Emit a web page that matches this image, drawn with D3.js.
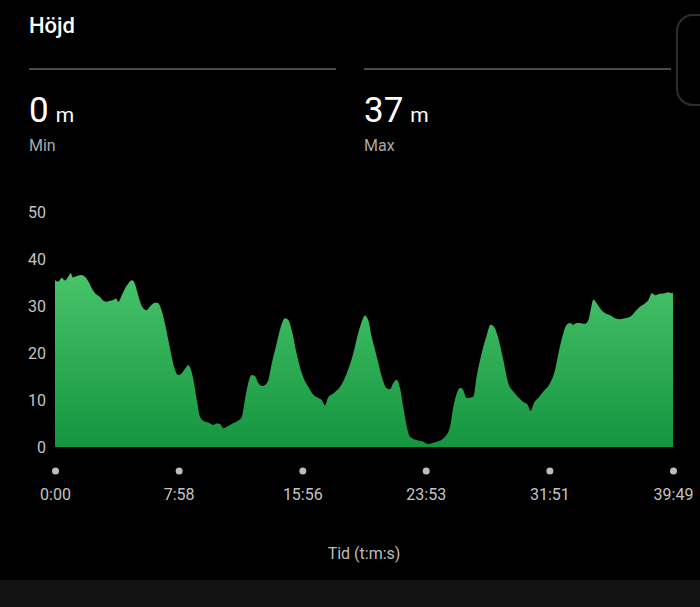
<!DOCTYPE html>
<html>
<head>
<meta charset="utf-8">
<script src="https://d3js.org/d3.v7.min.js"></script>
<style>
  html, body { margin: 0; padding: 0; background: #000; }
  svg { display: block; font-family: Roboto, "Noto Sans", sans-serif; }
</style>
</head>
<body>
<div id="chart"></div>
<script>
// elevation profile (seconds, metres)
const times = [0, 13, 26, 39, 51, 61, 68, 84, 103, 116, 129, 142, 155, 174, 187, 200, 213, 225, 236, 245,
  258, 271, 283, 297, 305, 316, 329, 341, 354, 367, 387, 399, 412, 425, 438, 451, 464, 477, 490, 503,
  515, 526, 535, 548, 561, 573, 593, 612, 625, 638, 651, 664, 683, 702, 722, 734, 747, 760, 773, 786,
  800, 812, 825, 838, 857, 873, 889, 902, 915, 934, 954, 979, 999, 1018, 1031, 1044, 1056, 1076, 1102, 1128,
  1153, 1172, 1186, 1198, 1211, 1224, 1244, 1263, 1282, 1295, 1308, 1321, 1334, 1346, 1360, 1372, 1398, 1424, 1443, 1456,
  1476, 1508, 1527, 1540, 1553, 1566, 1578, 1592, 1604, 1617, 1630, 1649, 1669, 1684, 1697, 1714, 1733, 1752, 1772, 1791,
  1810, 1826, 1839, 1852, 1868, 1888, 1914, 1933, 1946, 1965, 1978, 1991, 2004, 2010, 2030, 2049, 2062, 2072, 2081, 2094,
  2113, 2133, 2145, 2165, 2184, 2203, 2223, 2242, 2262, 2281, 2294, 2307, 2320, 2339, 2358, 2371, 2384, 2389];
const heights = [35.5, 35.2, 36.0, 35.4, 36.2, 37.0, 36.1, 36.4, 36.6, 36.2, 35.2, 33.8, 32.7, 31.9, 31.1, 30.9, 31.1, 31.3, 31.6, 30.9,
  32.3, 33.8, 34.8, 35.5, 35.2, 33.4, 30.9, 29.5, 29.1, 29.9, 30.7, 30.6, 29.1, 26.3, 22.8, 19.2, 16.4, 15.3, 15.7, 16.7,
  17.4, 16.4, 14.3, 10.0, 6.4, 5.6, 5.2, 4.7, 5.0, 4.9, 4.0, 4.3, 4.9, 5.4, 6.4, 10.0, 13.6, 15.3, 15.1, 13.6,
  13.0, 13.2, 14.3, 17.8, 22.1, 25.6, 27.4, 27.0, 24.9, 19.9, 15.7, 12.8, 11.1, 10.4, 10.0, 8.9, 10.6, 11.4, 12.8, 15.7,
  19.9, 24.2, 26.7, 28.0, 27.0, 23.5, 19.2, 15.0, 12.5, 12.3, 13.6, 14.3, 12.5, 8.6, 4.3, 2.2, 1.5, 1.1, 0.6, 0.8,
  1.1, 2.2, 4.3, 8.6, 11.4, 12.6, 12.1, 10.4, 10.5, 10.7, 15.0, 19.9, 23.8, 26.0, 25.6, 23.1, 18.5, 13.6, 11.8, 10.6,
  9.6, 9.1, 7.7, 9.4, 10.4, 11.8, 13.6, 16.4, 19.9, 24.2, 26.0, 26.4, 26.0, 26.3, 26.4, 26.2, 27.0, 29.5, 31.4, 30.6,
  29.1, 28.3, 28.1, 27.4, 27.2, 27.4, 27.7, 28.8, 29.9, 30.6, 31.3, 32.7, 32.3, 32.6, 32.7, 32.9, 32.7, 32.8];

const yTicks = [0, 10, 20, 30, 40, 50];
const xTickSeconds = [0, 478, 956, 1433, 1911, 2389];
const xTickLabels = ["0:00", "7:58", "15:56", "23:53", "31:51", "39:49"];

const title = "Höjd";
const stats = [{ value: "0", unit: "m", label: "Min" }, { value: "37", unit: "m", label: "Max" }];
const axisTitle = "Tid (t:m:s)";

const width = 700, height = 607;

const svg = d3.select("#chart").append("svg")
  .attr("width", width)
  .attr("height", height);

svg.append("rect").attr("width", width).attr("height", height).attr("fill", "#000");

// bottom strip
svg.append("rect").attr("x", 0).attr("y", 580).attr("width", width).attr("height", 27).attr("fill", "#121212");

// partial card at right edge
svg.append("rect")
  .attr("x", 677).attr("y", 15).attr("width", 60).attr("height", 90).attr("rx", 16)
  .attr("fill", "none").attr("stroke", "#2e2e2e").attr("stroke-width", 2);

// header
svg.append("text").attr("x", 29).attr("y", 33)
  .attr("fill", "#fff").attr("font-size", 22).attr("font-weight", 500)
  .text(title);

const statX = [29, 364];
stats.forEach((s, i) => {
  const x0 = statX[i];
  svg.append("line")
    .attr("x1", x0).attr("x2", x0 + 307).attr("y1", 69).attr("y2", 69)
    .attr("stroke", "#4a4a4a").attr("stroke-width", 2);
  const t = svg.append("text").attr("x", x0).attr("y", 122).attr("fill", "#fff");
  t.append("tspan").attr("font-size", 35).text(s.value);
  t.append("tspan").attr("font-size", 21).attr("dx", 7).text(s.unit);
  svg.append("text").attr("x", x0).attr("y", 151)
    .attr("fill", "#a8a8a8").attr("font-size", 16).text(s.label);
});

// scales
const x = d3.scaleLinear().domain([0, 2389]).range([55, 673]);
const y = d3.scaleLinear().domain([0, 50]).range([447, 212]);

const data = times.map((t, i) => ({ t: t, h: heights[i] }));

const defs = svg.append("defs");
const grad = defs.append("linearGradient")
  .attr("id", "fillGrad")
  .attr("gradientUnits", "userSpaceOnUse")
  .attr("x1", 0).attr("x2", 0)
  .attr("y1", y(37)).attr("y2", y(0));
grad.append("stop").attr("offset", "0%").attr("stop-color", "#48c46a");
grad.append("stop").attr("offset", "100%").attr("stop-color", "#14953f");

const area = d3.area()
  .x(d => x(d.t))
  .y0(y(0))
  .y1(d => y(d.h))
  .curve(d3.curveMonotoneX);

svg.append("path")
  .datum(data)
  .attr("d", area)
  .attr("fill", "url(#fillGrad)");

// y axis labels
const yAxis = svg.append("g").attr("transform", "translate(46,0)")
  .call(d3.axisLeft(y).tickValues(yTicks).tickSize(0).tickPadding(0));
yAxis.select(".domain").remove();
yAxis.selectAll("text")
  .attr("fill", "#c4c4c4").attr("font-size", 16)
  .attr("font-family", "Roboto, sans-serif");

// x axis dots + labels
const xAxis = svg.append("g").attr("transform", "translate(0,471)")
  .call(d3.axisBottom(x).tickValues(xTickSeconds)
    .tickFormat((d, i) => xTickLabels[i]).tickSize(0).tickPadding(18));
xAxis.select(".domain").remove();
xAxis.selectAll(".tick").append("circle").attr("r", 3.5).attr("fill", "#bdbdbd");
xAxis.selectAll("text")
  .attr("fill", "#c4c4c4").attr("font-size", 16)
  .attr("font-family", "Roboto, sans-serif");

svg.append("text")
  .attr("x", 364).attr("y", 559)
  .attr("text-anchor", "middle")
  .attr("fill", "#bdbdbd").attr("font-size", 16)
  .text(axisTitle);
</script>
</body>
</html>
